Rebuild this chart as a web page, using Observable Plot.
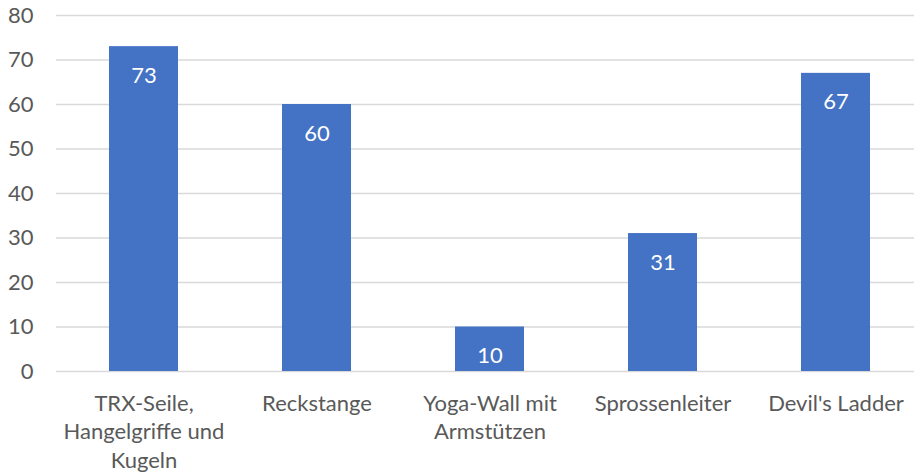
<!DOCTYPE html>
<html>
<head>
<meta charset="utf-8">
<script src="https://cdn.jsdelivr.net/npm/d3@7"></script>
<script src="https://cdn.jsdelivr.net/npm/@observablehq/plot@0.6"></script>
<style>
  html, body { margin: 0; padding: 0; background: #fff; }
  #chart { width: 914px; height: 472px; overflow: hidden; }
</style>
</head>
<body>
<div id="chart"></div>
<script>
const categories = ["TRX-Seile, Hangelgriffe und Kugeln", "Reckstange", "Yoga-Wall mit Armstützen", "Sprossenleiter", "Devil's Ladder"];
const values = [73, 60, 10, 31, 67];
const tickLabels = ["TRX-Seile,\nHangelgriffe und\nKugeln", "Reckstange", "Yoga-Wall mit\nArmstützen", "Sprossenleiter", "Devil's Ladder"];
const yTicks = [0, 10, 20, 30, 40, 50, 60, 70, 80];

const data = categories.map((c, i) => ({category: c, value: values[i]}));
const labelOf = new Map(categories.map((c, i) => [c, tickLabels[i]]));

const chart = Plot.plot({
  width: 914,
  height: 472,
  marginLeft: 56,
  marginRight: -9,
  marginTop: 15,
  marginBottom: 101,
  style: {fontFamily: "Lato", fontSize: "22px", color: "#595959", background: "#fff", overflow: "hidden"},
  x: {domain: categories, paddingInner: 0.6, paddingOuter: 0.3, label: null},
  y: {domain: [0, 80], ticks: yTicks, label: null},
  marks: [
    Plot.gridY(yTicks, {stroke: "#D9D9D9", strokeOpacity: 1, strokeWidth: 1.5}),
    Plot.axisY({ticks: yTicks, tickSize: 0, tickPadding: 23, label: null, fill: "#595959", fontSize: 22}),
    Plot.axisX({tickSize: 0, tickPadding: 19, label: null, tickFormat: d => labelOf.get(d), lineHeight: 1.3, fill: "#595959", fontSize: 22}),
    Plot.barY(data, {x: "category", y: "value", fill: "#4472C4"}),
    Plot.text(data, {x: "category", y: "value", text: d => String(d.value), dy: 29, fill: "white", fontSize: 22})
  ]
});
document.getElementById("chart").appendChild(chart);
</script>
</body>
</html>
